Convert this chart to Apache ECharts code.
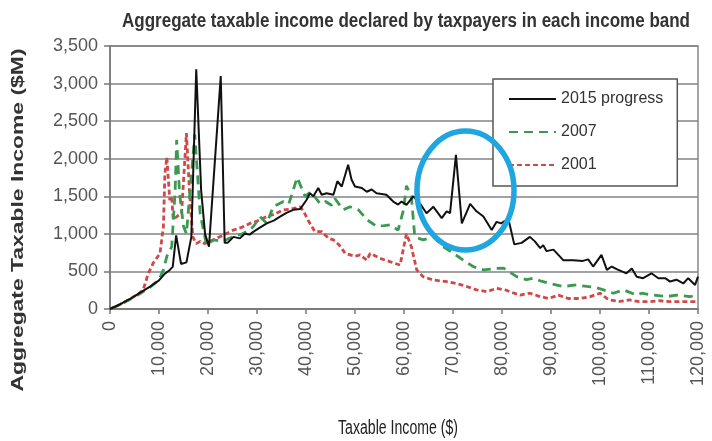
<!DOCTYPE html>
<html>
<head>
<meta charset="utf-8">
<script src="https://cdn.jsdelivr.net/npm/echarts@6/dist/echarts.min.js"></script>
<style>html,body{margin:0;padding:0;background:#fff}#c{width:712px;height:441px}</style>
</head>
<body>
<div id="c"></div>
<script>
// Income band (thousands of $) and aggregate taxable income ($M)
const x2015 = [0,2,4,6,8,10,11.2,12.2,12.8,13.5,14.5,15.6,16.6,17.6,18.6,19.4,20.2,22.6,23.4,24,25.2,26.5,27.5,28.5,29.3,30.5,32,33.5,34.7,36,37.4,38.8,40.1,40.8,41.5,42.5,43.2,44.2,45.6,46.4,47.3,48.6,49.3,50,51.4,52.4,53.4,54.4,55.4,56.4,57.8,58.8,59.5,60.5,61.9,63.3,64.6,66,67.7,68.7,69.4,70.6,71.8,73.5,74.8,76.2,77.9,78.9,79.8,81.3,82.5,84,85.7,86.7,87.8,88.4,89.1,90.5,92.5,94.6,96.5,97.6,98.6,100.3,101.4,102.4,103.4,105.4,106.5,107.5,108.8,110.5,111.9,113.3,114.3,115.6,117,118,119.4,120];
const y2015 = [0,60,130,210,290,380,470,520,560,980,600,620,960,3190,1580,1000,830,3100,880,880,960,940,1000,990,1030,1080,1140,1180,1230,1280,1320,1330,1450,1540,1500,1610,1520,1540,1520,1700,1630,1920,1720,1630,1610,1560,1590,1540,1530,1520,1430,1390,1430,1385,1500,1400,1275,1360,1210,1300,1275,2050,1140,1400,1300,1230,1050,1160,1140,1200,860,880,960,900,810,850,770,790,650,650,640,660,565,720,520,565,530,475,540,430,410,475,410,410,365,390,340,410,320,430];

const x2007 = [0,2,4,6,8,10,10.9,11.6,12.6,13.3,13.6,14.2,15,15.6,16.5,17.3,18.4,19.7,21.1,23,25,27,28.5,29.3,30.6,32,33.3,35.4,36.5,38.2,39.8,41,42.9,44,45.2,45.9,47.6,49,50.7,52.4,54.4,56,57.1,58.8,59.9,60.5,61.5,62.2,63.9,66,68,70.1,72.1,74.1,76.2,78.9,80.3,83,85,86.4,88,89.8,92.5,95.2,97.3,99,100.7,102.7,104.8,107.5,108.5,110.9,113.6,115.6,118.4,119.7];
const y2007 = [0,55,125,200,280,390,520,700,830,1580,2250,1540,1100,1000,1700,2320,1270,850,920,900,960,1000,1050,1100,1230,1140,1360,1430,1400,1750,1500,1560,1400,1430,1380,1470,1320,1360,1320,1190,1100,1110,1120,1050,1320,1640,1500,960,920,960,830,740,650,565,520,540,545,430,390,410,370,340,300,320,300,290,255,210,255,185,210,185,165,185,165,185];

const x2001 = [0,2,4,6,6.8,7.8,8.8,10.2,10.9,11.2,11.6,12.2,12.6,12.9,14,14.6,15.6,16.2,16.9,17.6,18.4,19.3,21.1,23,25.2,27,28.6,30,32,33.5,35.4,37,38.8,39.5,40.4,41.8,43.2,44.6,45.6,46.8,48,50,51,52.4,53.1,55.1,57.1,59.2,60.5,61.5,62.6,63.9,66,68.7,70.7,72.8,74.8,76.9,78.9,80.9,81.6,83.7,85.7,87.8,89.5,91.5,93.5,95.9,98,100,101.4,102,104,106,108,110.2,112.2,114.3,116.3,118.4,120];
const y2001 = [0,60,130,210,260,470,610,740,1100,1800,2020,1450,1500,1190,1250,1270,2340,1580,960,870,900,870,920,980,1050,1090,1140,1170,1230,1260,1320,1330,1360,1300,1185,1030,1030,940,920,850,740,700,720,650,740,675,630,585,1000,830,520,430,385,365,340,300,255,230,275,250,230,185,210,165,140,185,140,140,165,210,140,120,100,120,97,97,110,97,97,97,97];

const seriesNames = ['2015 progress','2007','2001'];
const yTicks = [0,500,1000,1500,2000,2500,3000,3500];
const xTicks = [0,10000,20000,30000,40000,50000,60000,70000,80000,90000,100000,110000,120000];

const titleText = 'Aggregate taxable income declared by taxpayers in each income band';
const xName = 'Taxable Income ($)';
const yName = 'Aggregate Taxable Income ($M)';

// Highlighted region (annotation) in data units
const highlightCenter = [72550, 1577];
const highlightRadius = [9900, 792];

function pairs(xs, ys){ return xs.map((v,i)=>[v*1000, ys[i]]); }
function fmt(v){ return String(v).replace(/\B(?=(\d{3})+(?!\d))/g, ','); }

const ctx = document.createElement('canvas').getContext('2d');
function textW(font, t){ ctx.font = font; return ctx.measureText(t).width; }

const chart = echarts.init(document.getElementById('c'), null, {renderer:'canvas'});
const labelFont = "'Liberation Sans',Arial,sans-serif";
const titleFont = "bold 20px 'Liberation Sans', Arial, sans-serif";
const xNameFont = "20px 'Liberation Sans', Arial, sans-serif";
const yNameFont = "bold 16px 'Liberation Sans', Arial, sans-serif";

chart.setOption({
  animation: false,
  backgroundColor: '#fff',
  grid: {left: 110, right: 14, top: 46, bottom: 132, show: true, borderColor: '#888', borderWidth: 1.5, containLabel: false},
  legend: {
    orient: 'vertical', left: 493, top: 79,
    data: seriesNames,
    itemWidth: 47, itemHeight: 16, itemGap: 17,
    padding: [12, 14, 13, 15],
    backgroundColor: '#fff', borderColor: '#555', borderWidth: 1.5,
    itemStyle: {opacity: 0},
    textStyle: {fontFamily: labelFont, fontSize: 16, color: '#333'}
  },
  xAxis: {
    type: 'value', min: xTicks[0], max: xTicks[xTicks.length-1], interval: xTicks[1]-xTicks[0],
    axisLine: {show: true, lineStyle: {color: '#777', width: 1.5}},
    axisTick: {show: true, length: 5, lineStyle: {color: '#777', width: 1.5}},
    axisLabel: {rotate: 90, margin: 12, fontFamily: labelFont, fontSize: 18, color: '#555', formatter: fmt, showMaxLabel: true, showMinLabel: true},
    splitLine: {show: false}
  },
  yAxis: {
    type: 'value', min: yTicks[0], max: yTicks[yTicks.length-1], interval: yTicks[1]-yTicks[0],
    axisLine: {show: true, lineStyle: {color: '#777', width: 1.5}},
    axisTick: {show: true, length: 6, lineStyle: {color: '#777', width: 1.5}},
    axisLabel: {margin: 12, fontFamily: labelFont, fontSize: 18, color: '#555', formatter: fmt},
    splitLine: {show: true, lineStyle: {color: '#838383', width: 1.6}}
  },
  series: [
    {name: seriesNames[0], type: 'line', data: pairs(x2015, y2015), symbol: 'none', z: 5,
     lineStyle: {color: '#111', width: 2}, itemStyle: {color: '#111'}},
    {name: seriesNames[1], type: 'line', data: pairs(x2007, y2007), symbol: 'none', z: 4,
     lineStyle: {color: '#3a9a52', width: 2.8, type: [9, 6]}, itemStyle: {color: '#3a9a52'}},
    {name: seriesNames[2], type: 'line', data: pairs(x2001, y2001), symbol: 'none', z: 3,
     lineStyle: {color: '#d04848', width: 2.8, type: [5, 3]}, itemStyle: {color: '#d04848'}}
  ]
});

const c = chart.convertToPixel({gridIndex: 0}, highlightCenter);
const e = chart.convertToPixel({gridIndex: 0}, [highlightCenter[0]+highlightRadius[0], highlightCenter[1]+highlightRadius[1]]);
const g = chart.convertToPixel({gridIndex: 0}, [xTicks[0], yTicks[0]]);
const g2 = chart.convertToPixel({gridIndex: 0}, [xTicks[xTicks.length-1], yTicks[yTicks.length-1]]);
const plotMid = (g[0] + g2[0]) / 2;

chart.setOption({
  graphic: [
    {type: 'ellipse', z: 100, shape: {cx: c[0], cy: c[1], rx: Math.abs(e[0]-c[0]), ry: Math.abs(c[1]-e[1])},
     style: {fill: 'none', stroke: '#1fa6e0', lineWidth: 5.5}},
    {type: 'text', x: plotMid + 2, y: 21, scaleX: 568 / textW(titleFont, titleText), z: 100,
     style: {text: titleText, font: titleFont, fill: '#333', align: 'center', verticalAlign: 'middle'}},
    {type: 'text', x: 398, y: 428, scaleX: 120 / textW(xNameFont, xName), z: 100,
     style: {text: xName, font: xNameFont, fill: '#222', align: 'center', verticalAlign: 'middle'}},
    {type: 'text', x: 19, y: 220, rotation: Math.PI/2, scaleX: 343 / textW(yNameFont, yName), z: 100,
     style: {text: yName, font: yNameFont, fill: '#333', align: 'center', verticalAlign: 'middle'}}
  ]
});
</script>
</body>
</html>
